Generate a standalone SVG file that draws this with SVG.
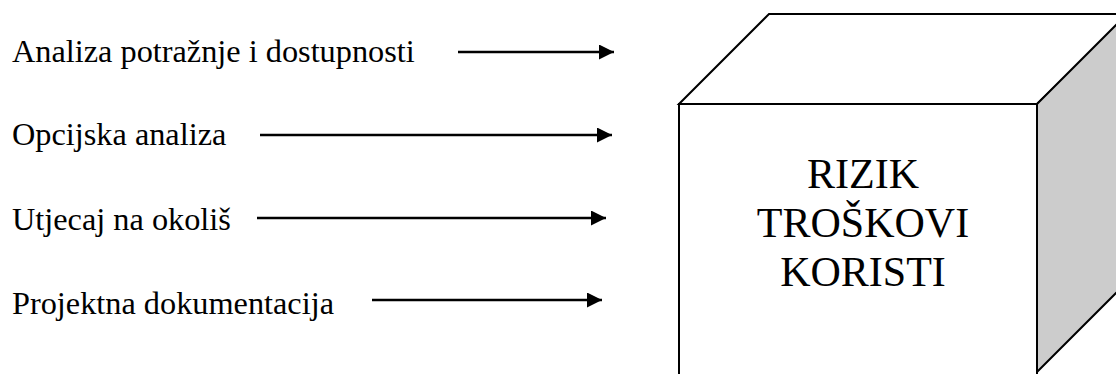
<svg xmlns="http://www.w3.org/2000/svg" width="1116" height="374" viewBox="0 0 1116 374">
<style>
.lbl{font-family:"Liberation Serif","Times New Roman",serif;font-size:32.3px;fill:#000}
.big{font-family:"Liberation Serif","Times New Roman",serif;font-size:42px;fill:#000;text-anchor:middle}
.edge{stroke:#000;stroke-width:2.5;fill:none}
.face{stroke:#000;stroke-width:2}
</style>
<defs>
<marker id="ah" viewBox="0 0 10 10" refX="10" refY="5" markerWidth="6.4" markerHeight="6" markerUnits="strokeWidth" orient="auto">
<path d="M0,0 L10,5 L0,10 z" fill="#000"/>
</marker>
</defs>
<rect width="1116" height="374" fill="#fff"/>
<g id="labels">
<g id="n1"><text class="lbl" x="12" y="62">Analiza potražnje i dostupnosti</text></g>
<g id="n2"><text class="lbl" x="12" y="145">Opcijska analiza</text></g>
<g id="n3"><text class="lbl" x="12" y="230">Utjecaj na okoliš</text></g>
<g id="n4"><text class="lbl" x="12" y="314">Projektna dokumentacija</text></g>
</g>
<g id="cube">
<polygon class="face" points="679,104 769,14 1130,14 1037,104" fill="#fff"/>
<polygon class="face" points="1037,104 1127,14 1127,282 1037,372" fill="#ccc"/>
<rect class="face" x="679" y="104" width="358" height="275" fill="#fff"/>
<text class="big" x="863" y="188">RIZIK</text>
<text class="big" x="863" y="237">TROŠKOVI</text>
<text class="big" x="863" y="286">KORISTI</text>
</g>
<g id="connectors">
<line class="edge" x1="458" y1="52" x2="614" y2="52" marker-end="url(#ah)"/>
<line class="edge" x1="260" y1="135" x2="612" y2="135" marker-end="url(#ah)"/>
<line class="edge" x1="257" y1="218" x2="606" y2="218" marker-end="url(#ah)"/>
<line class="edge" x1="372" y1="300" x2="602" y2="300" marker-end="url(#ah)"/>
</g>
</svg>
